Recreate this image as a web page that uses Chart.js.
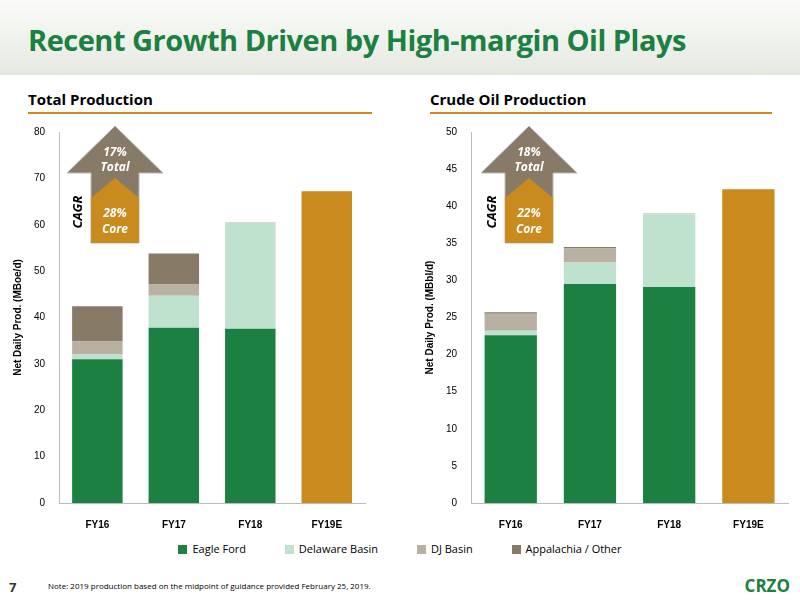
<!DOCTYPE html>
<html><head><meta charset="utf-8">
<script src="https://cdn.jsdelivr.net/npm/chart.js@4"></script>
<style>
body{margin:0;width:800px;height:600px;position:relative;font-family:"Open Sans",sans-serif;background:#fff;overflow:hidden}
#hdr{position:absolute;left:0;top:0;width:800px;height:75px;background:linear-gradient(180deg,#fafbf8 0%,#eef1ea 60%,#e4e9e0 100%)}
#title{position:absolute;left:28px;top:20px;font:bold 29px "Open Sans",sans-serif;color:#1b8041;letter-spacing:-0.5px}
.sub{position:absolute;top:89px;font:bold 15px "Open Sans",sans-serif;color:#000}
.line{position:absolute;top:112px;height:2px;background:#c98a1e}
.cv{position:absolute;top:120px;width:370px;height:419px}
#legend{position:absolute;top:541px;left:0;width:800px;text-align:center;font:11px "Open Sans",sans-serif;color:#000}
#legend span{display:inline-block;margin:0 18px}
#legend i{display:inline-block;width:9px;height:9px;margin-right:5px;vertical-align:-1px}
#note{position:absolute;left:48px;top:580px;font:8px "Open Sans",sans-serif}
#pg{position:absolute;left:9px;top:578px;font:bold 13px "Open Sans",sans-serif;color:#333}
#crzo{position:absolute;right:10px;top:574px;font:bold 17px "Open Sans",sans-serif;color:#1b8041}
</style></head><body>
<div id="hdr"></div>
<div id="title">Recent Growth Driven by High-margin Oil Plays</div>
<div class="sub" style="left:28px">Total Production</div>
<div class="sub" style="left:430px">Crude Oil Production</div>
<div class="line" style="left:28px;width:344px"></div>
<div class="line" style="left:430px;width:342px"></div>
<canvas id="c1" class="cv" width="370" height="419" style="left:8px"></canvas>
<canvas id="c2" class="cv" width="370" height="419" style="left:420px"></canvas>
<div id="legend">
<span><i style="background:#1b8041"></i>Eagle Ford</span>
<span><i style="background:#bfe2cf"></i>Delaware Basin</span>
<span><i style="background:#b8b1a1"></i>DJ Basin</span>
<span><i style="background:#877a67"></i>Appalachia / Other</span>
</div>
<div id="pg">7</div>
<div id="note">Note: 2019 production based on the midpoint of guidance provided February 25, 2019.</div>
<div id="crzo">CRZO</div>
<script>
const categories=["FY16","FY17","FY18","FY19E"];
const totalEagleFord=[31.0,37.8,37.6,null];
const totalDelaware=[1.0,6.9,22.8,null];
const totalDJ=[2.8,2.4,0.1,null];
const totalAppalachia=[7.6,6.7,0,null];
const totalFY19E=[null,null,null,67.2];
const oilEagleFord=[22.6,29.5,29.1,null];
const oilDelaware=[0.6,2.9,9.8,null];
const oilDJ=[2.3,1.9,0.1,null];
const oilAppalachia=[0.2,0.2,0,null];
const oilFY19E=[null,null,null,42.3];
const names=["Eagle Ford","Delaware Basin","DJ Basin","Appalachia / Other","FY19E"];
const colors=["#1b8041","#bfe2cf","#b8b1a1","#877a67","#c98a1e"];

function arrowPlugin(cx,top,bot){return{id:'arrow',afterDraw(ch){
 const c=ch.ctx;
 c.save();
 c.fillStyle='#877a67';c.strokeStyle='#bbb';c.lineWidth=1;
 c.beginPath();c.moveTo(cx,6);c.lineTo(cx+48,53);c.lineTo(cx+24,53);c.lineTo(cx+24,123);c.lineTo(cx-24,123);c.lineTo(cx-24,53);c.lineTo(cx-48,53);c.closePath();c.fill();c.stroke();
 c.fillStyle='#c98a1e';
 c.beginPath();c.moveTo(cx,58);c.lineTo(cx+24,78);c.lineTo(cx+24,123);c.lineTo(cx-24,123);c.lineTo(cx-24,78);c.closePath();c.fill();
 c.fillStyle='#fff';c.textAlign='center';c.font='italic bold 12px "Open Sans",sans-serif';
 c.fillText(top[0],cx,36);c.fillText(top[1],cx,51);c.fillText(bot[0],cx,97);c.fillText(bot[1],cx,113);
 c.fillStyle='#000';c.font='italic bold 13px "Open Sans",sans-serif';
 c.translate(cx-33,92);c.rotate(-Math.PI/2);c.fillText('CAGR',0,0);
 c.restore();}}}

function make(id,data,max,step,ytitle,cx,padR,top,bot){
 new Chart(document.getElementById(id),{type:'bar',
 data:{labels:categories,datasets:data.map((d,i)=>({label:names[i],data:d,backgroundColor:colors[i],categoryPercentage:1,barPercentage:0.66,skipNull:true}))},
 options:{responsive:false,animation:false,layout:{padding:{top:5,right:padR}},
  plugins:{legend:{display:false},tooltip:{enabled:false}},
  scales:{x:{stacked:true,grid:{display:false},border:{color:'#bbb'},ticks:{color:'#000',font:{size:10,weight:'bold'},padding:8}},
   y:{stacked:true,min:0,max:max,ticks:{stepSize:step,color:'#000',font:{size:10},padding:6},grid:{display:false},border:{color:'#bbb'},
   title:{display:true,text:ytitle,color:'#000',font:{size:10,weight:'bold'}}}}},
 plugins:[arrowPlugin(cx,top,bot)]});
}
make('c1',[totalEagleFord,totalDelaware,totalDJ,totalAppalachia,totalFY19E],80,10,'Net Daily Prod. (MBoe/d)',107,13,['17%','Total'],['28%','Core']);
make('c2',[oilEagleFord,oilDelaware,oilDJ,oilAppalachia,oilFY19E],50,5,'Net Daily Prod. (MBbl/d)',109,2,['18%','Total'],['22%','Core']);
</script></body></html>
